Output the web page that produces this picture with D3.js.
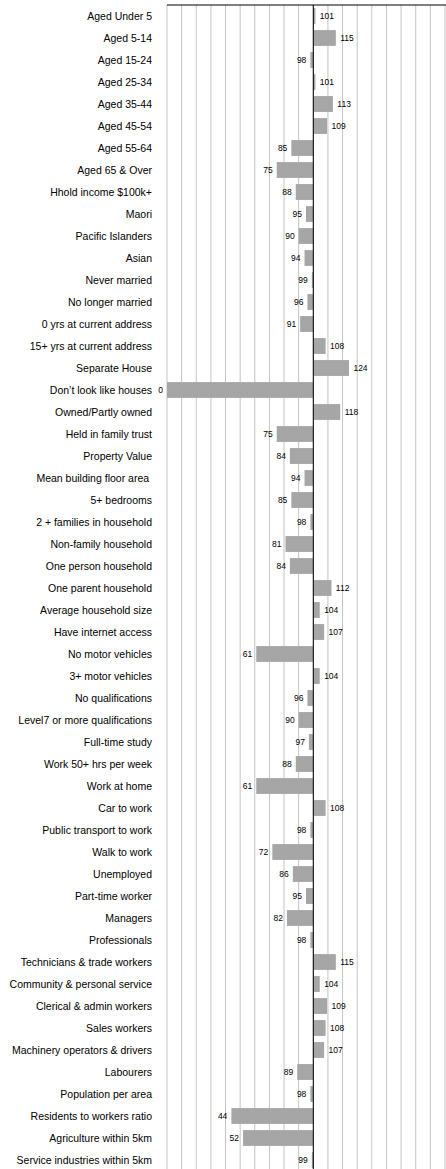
<!DOCTYPE html>
<html>
<head>
<meta charset="utf-8">
<script src="https://cdn.jsdelivr.net/npm/d3@7"></script>
<style>
  body { margin: 0; background: #fff; overflow: hidden; }
  svg { display: block; font-family: "Liberation Sans", Arial, sans-serif; }
  text { white-space: pre; }
</style>
</head>
<body>
<div id="chart"></div>
<script>
// category labels, top to bottom
const categories = [
    'Aged Under 5', 'Aged 5-14', 'Aged 15-24', 'Aged 25-34', 'Aged 35-44', 'Aged 45-54',
    'Aged 55-64', 'Aged 65 & Over', 'Hhold income $100k+', 'Maori', 'Pacific Islanders',
    'Asian', 'Never married', 'No longer married', '0 yrs at current address',
    '15+ yrs at current address', 'Separate House', 'Don\u2019t look like houses',
    'Owned/Partly owned', 'Held in family trust', 'Property Value', 'Mean building floor area ',
    '5+ bedrooms', '2 + families in household', 'Non-family household', 'One person household',
    'One parent household', 'Average household size', 'Have internet access',
    'No motor vehicles', '3+ motor vehicles', 'No qualifications',
    'Level7 or more qualifications', 'Full-time study', 'Work 50+ hrs per week',
    'Work at home', 'Car to work', 'Public transport to work', 'Walk to work',
    'Unemployed', 'Part-time worker', 'Managers', 'Professionals',
    'Technicians & trade workers', 'Community & personal service',
    'Clerical & admin workers', 'Sales workers', 'Machinery operators & drivers',
    'Labourers', 'Population per area', 'Residents to workers ratio',
    'Agriculture within 5km', 'Service industries within 5km'
];

// index values (100 = average)
const values = [
    101, 115, 98, 101, 113, 109, 85, 75, 88, 95, 90, 94, 99, 96, 91, 108, 124, 0,
    118, 75, 84, 94, 85, 98, 81, 84, 112, 104, 107, 61, 104, 96, 90, 97, 88, 61,
    108, 98, 72, 86, 95, 82, 98, 115, 104, 109, 108, 107, 89, 98, 44, 52, 99
];

const baseline = 100;
const gridTicks = d3.range(0, 201, 10);

const width = 446;
const height = 1169;
const margin = { top: 5, left: 167 };
const rowH = 22;

const data = categories.map((c, i) => ({ label: c, value: values[i] }));

const svg = d3.select('#chart')
    .append('svg')
    .attr('width', width)
    .attr('height', height);

// x scale: 0..200 index, right part runs past the window
const x = d3.scaleLinear()
    .domain([0, 200])
    .range([margin.left, margin.left + 292.6]);

const y = d3.scaleBand()
    .domain(categories)
    .range([margin.top, margin.top + rowH * categories.length])
    .paddingInner(0.28)
    .paddingOuter(0.14);

// vertical gridlines
svg.append('g')
    .selectAll('line')
    .data(gridTicks)
    .enter()
    .append('line')
    .attr('x1', d => x(d))
    .attr('x2', d => x(d))
    .attr('y1', margin.top)
    .attr('y2', height)
    .attr('stroke', '#c4c4c4')
    .attr('stroke-width', 1);

// top border
svg.append('line')
    .attr('x1', x(0))
    .attr('x2', width)
    .attr('y1', margin.top)
    .attr('y2', margin.top)
    .attr('stroke', '#000')
    .attr('stroke-width', 1.2);

// bars from the baseline (at least 1.5px so 99/101 still show)
svg.append('g')
    .selectAll('rect')
    .data(data)
    .enter()
    .append('rect')
    .attr('x', d => d.value >= baseline ? x(baseline) : x(d.value))
    .attr('width', d => Math.max(1.5, Math.abs(x(d.value) - x(baseline))) + (d.value >= baseline ? 0.6 : 0))
    .attr('y', d => y(d.label))
    .attr('height', y.bandwidth())
    .attr('fill', '#a6a6a6');

// baseline
svg.append('line')
    .attr('x1', x(baseline))
    .attr('x2', x(baseline))
    .attr('y1', margin.top)
    .attr('y2', height)
    .attr('stroke', '#000')
    .attr('stroke-width', 1);

// category labels
svg.append('g')
    .selectAll('text')
    .data(data)
    .enter()
    .append('text')
    .attr('x', margin.left - 15)
    .attr('y', d => y(d.label) + y.bandwidth() / 2)
    .attr('dy', '0.35em')
    .attr('text-anchor', 'end')
    .style('font-size', '10.5px')
    .attr('fill', '#000')
    .text(d => d.label);

// value labels at bar ends
svg.append('g')
    .selectAll('text')
    .data(data)
    .enter()
    .append('text')
    .attr('x', d => d.value >= baseline ? x(d.value) + 5 : x(d.value) - 4)
    .attr('y', d => y(d.label) + y.bandwidth() / 2)
    .attr('dy', '0.35em')
    .attr('text-anchor', d => d.value >= baseline ? 'start' : 'end')
    .style('font-size', '8.5px')
    .attr('fill', '#000')
    .text(d => d.value);
</script>
</body>
</html>
